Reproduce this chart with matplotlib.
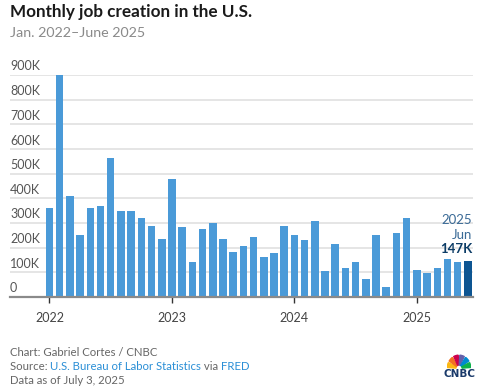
import matplotlib
matplotlib.use("Agg")
import matplotlib.pyplot as plt
import matplotlib.transforms as mtransforms
from matplotlib.patches import Wedge
import numpy as np

years = [2022, 2023, 2024, 2025]
months = ["Jan", "Feb", "Mar", "Apr", "May", "Jun", "Jul", "Aug", "Sep", "Oct", "Nov", "Dec"]
jobs_2022 = [361, 904, 411, 251, 361, 367, 565, 349, 348, 320, 286, 235]
jobs_2023 = [478, 284, 142, 276, 300, 236, 181, 207, 243, 162, 178, 287]
jobs_2024 = [253, 232, 308, 105, 213, 116, 140, 75, 251, 40, 258, 320]
jobs_2025 = [108, 99, 118, 155, 140, 147]
values = np.array(jobs_2022 + jobs_2023 + jobs_2024 + jobs_2025) * 1000
yticks = [0, 100000, 200000, 300000, 400000, 500000, 600000, 700000, 800000, 900000]
ytick_labels = ["0", "100K", "200K", "300K", "400K", "500K", "600K", "700K", "800K", "900K"]

FONT = "Lato"
W, H = 480, 389
fig = plt.figure(figsize=(W / 100, H / 100), dpi=100)
fig.patch.set_facecolor("white")

def fx(px):
    return px / W

def fy(py):
    return 1 - py / H

left, right, top, bottom = 10, 473, 75, 297
ax = fig.add_axes([fx(left), fy(bottom), fx(right - left), fy(top) - fy(bottom)])

x = np.arange(len(values))
colors = ["#4a9ad8"] * len(values)
colors[-1] = "#0d5592"
ax.bar(x, values, width=0.74, color=colors, zorder=3)

ax.set_ylim(0, 900000)
ax.set_xlim(-3.87, 41.5)
for v in yticks[1:]:
    ax.axhline(v, color="#dedede", lw=1.1, zorder=1)
ax.set_yticks([])
for s in ["top", "right", "left"]:
    ax.spines[s].set_visible(False)
ax.spines["bottom"].set_color("#8a8a8a")
ax.spines["bottom"].set_linewidth(1.6)
ax.spines["bottom"].set_zorder(4)

year_pos = [0, 12, 24, 36]
ax.set_xticks(year_pos)
ax.set_xticklabels([str(y) for y in years], fontsize=9, color="#444444", family=FONT)
ax.tick_params(axis="x", length=4, width=1, color="#333333", pad=7)

trans = mtransforms.blended_transform_factory(ax.transAxes, ax.transData)
off = mtransforms.offset_copy(trans, fig=fig, x=0, y=2.5, units="dots")
for v, lab in zip(yticks, ytick_labels):
    ax.text(0, v, lab, transform=off, ha="left", va="bottom", fontsize=9,
            color="#555555", family=FONT, zorder=5, clip_on=False)

# annotation for last bar
ax_right = fx(472)
fig.text(ax_right, fy(220), "2025", ha="right", va="center", fontsize=9.5,
         color="#3a6a96", family=FONT)
fig.text(ax_right, fy(235), "Jun", ha="right", va="center", fontsize=9.5,
         color="#3a6a96", family=FONT)
fig.text(ax_right, fy(249), f"{jobs_2025[-1]}K", ha="right", va="center", fontsize=9.5,
         color="#0c3c66", family=FONT, fontweight="bold")

# titles
fig.text(fx(10), fy(12), "Monthly job creation in the U.S.", ha="left", va="center",
         fontsize=12.3, fontweight="bold", color="#1a1a1a", family=FONT)
fig.text(fx(10), fy(33), "Jan. 2022\u2013June 2025", ha="left", va="center",
         fontsize=10.3, color="#8a8a8a", family=FONT)

# footer
fc = "#666666"
lc = "#2b8fd6"
fs = 8.2
fig.text(fx(10), fy(352), "Chart: Gabriel Cortes / CNBC", ha="left", va="center",
         fontsize=fs, color=fc, family=FONT)
t = fig.text(fx(10), fy(366), "Source: ", ha="left", va="center", fontsize=fs, color=fc, family=FONT)
fig.canvas.draw()
r = fig.canvas.get_renderer()
def after(prev, s, color):
    bb = prev.get_window_extent(renderer=r)
    return fig.text(bb.x1 / W, fy(366), s, ha="left", va="center", fontsize=fs, color=color, family=FONT)
t2 = after(t, "U.S. Bureau of Labor Statistics", lc)
t3 = after(t2, " via ", fc)
t4 = after(t3, "FRED", lc)
fig.text(fx(10), fy(380), "Data as of July 3, 2025", ha="left", va="center",
         fontsize=fs, color=fc, family=FONT)

# CNBC peacock logo
lax = fig.add_axes([fx(447), fy(369), fx(24), fy(350) - fy(369)])
lax.set_xlim(-1.1, 1.1)
lax.set_ylim(-0.05, 1.5)
lax.axis("off")
feather_colors = ["#fcb711", "#f37021", "#cc004c", "#6460aa", "#0089d0", "#0db14b"]
angles = np.linspace(180, 0, 7)
for i, c in enumerate(feather_colors):
    a1, a2 = angles[i + 1], angles[i]
    lax.add_patch(Wedge((0, 0), 1.08, a1 + 4, a2 - 4, width=0.8, color=c))
fig.text(fx(459), fy(374), "CNBC", ha="center", va="center", fontsize=7.5,
         fontweight="bold", color="#1a3a6a", family="DejaVu Sans")

fig.savefig("out.png", dpi=100, facecolor="white")
